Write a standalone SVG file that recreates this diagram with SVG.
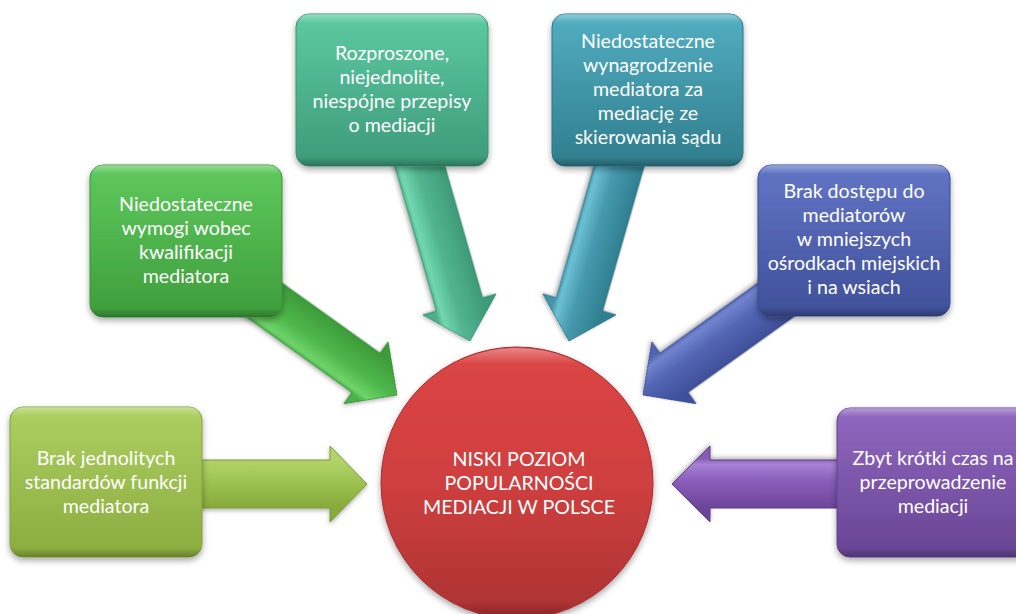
<svg xmlns="http://www.w3.org/2000/svg" width="1016" height="614" viewBox="0 0 1016 614">
<style>
  .lbl { font-family: Lato, "Noto Sans", "Liberation Sans", sans-serif; font-size: 19.6px; fill: #ffffff; text-anchor: middle; }
  .box { stroke-width: 1; }
  .arr { stroke-width: 1; stroke-linejoin: round; }
</style>
<defs>
  <filter id="sh" x="-20%" y="-20%" width="140%" height="150%">
    <feDropShadow dx="0" dy="3" stdDeviation="3" flood-color="#000" flood-opacity="0.35"/>
  </filter>
  <filter id="ash" x="-20%" y="-30%" width="140%" height="160%">
    <feDropShadow dx="0" dy="2" stdDeviation="2" flood-color="#000" flood-opacity="0.3"/>
  </filter>
  <linearGradient id="b1" x1="0" y1="0" x2="0" y2="1"><stop offset="0" stop-color="#aed062"/><stop offset="1" stop-color="#8aab3e"/></linearGradient>
  <linearGradient id="b2" x1="0" y1="0" x2="0" y2="1"><stop offset="0" stop-color="#5fc95d"/><stop offset="1" stop-color="#3e9d3b"/></linearGradient>
  <linearGradient id="b3" x1="0" y1="0" x2="0" y2="1"><stop offset="0" stop-color="#5dcaa1"/><stop offset="1" stop-color="#3d9a7a"/></linearGradient>
  <linearGradient id="b4" x1="0" y1="0" x2="0" y2="1"><stop offset="0" stop-color="#52aec1"/><stop offset="1" stop-color="#2f7d8d"/></linearGradient>
  <linearGradient id="b5" x1="0" y1="0" x2="0" y2="1"><stop offset="0" stop-color="#6275c6"/><stop offset="1" stop-color="#3f4f98"/></linearGradient>
  <linearGradient id="b6" x1="0" y1="0" x2="0" y2="1"><stop offset="0" stop-color="#9068c0"/><stop offset="1" stop-color="#684493"/></linearGradient>
  <linearGradient id="cg" x1="0" y1="0" x2="0" y2="1"><stop offset="0" stop-color="#dc4545"/><stop offset="0.5" stop-color="#cf3f3f"/><stop offset="1" stop-color="#ab3232"/></linearGradient>
  <linearGradient id="chl" x1="0" y1="0" x2="0" y2="1"><stop offset="0" stop-color="#fff" stop-opacity="0.35"/><stop offset="0.06" stop-color="#fff" stop-opacity="0"/><stop offset="0.94" stop-color="#000" stop-opacity="0"/><stop offset="1" stop-color="#000" stop-opacity="0.25"/></linearGradient>
  <linearGradient id="a1" x1="0" y1="0" x2="0" y2="1"><stop offset="0.18" stop-color="#b2d46b"/><stop offset="0.5" stop-color="#9cc24f"/><stop offset="0.82" stop-color="#86a93a"/></linearGradient>
  <linearGradient id="a2" x1="0" y1="0" x2="0" y2="1"><stop offset="0.18" stop-color="#3d9b3a"/><stop offset="0.55" stop-color="#4fb74c"/><stop offset="0.76" stop-color="#6ed46a"/><stop offset="0.84" stop-color="#4cb049"/></linearGradient>
  <linearGradient id="a3" x1="0" y1="0" x2="0" y2="1"><stop offset="0.18" stop-color="#3e9a7a"/><stop offset="0.55" stop-color="#52b590"/><stop offset="0.76" stop-color="#72d8b0"/><stop offset="0.84" stop-color="#4fae8a"/></linearGradient>
  <linearGradient id="a4" x1="0" y1="0" x2="0" y2="1"><stop offset="0.18" stop-color="#2f7f90"/><stop offset="0.55" stop-color="#4799ae"/><stop offset="0.76" stop-color="#6cc0d4"/><stop offset="0.84" stop-color="#4595aa"/></linearGradient>
  <linearGradient id="a5" x1="0" y1="0" x2="0" y2="1"><stop offset="0.18" stop-color="#3f4f9a"/><stop offset="0.55" stop-color="#5366b4"/><stop offset="0.76" stop-color="#7184cf"/><stop offset="0.84" stop-color="#5063b0"/></linearGradient>
  <linearGradient id="a6" x1="0" y1="0" x2="0" y2="1"><stop offset="0.18" stop-color="#6c4498"/><stop offset="0.55" stop-color="#8a5fbb"/><stop offset="0.76" stop-color="#a882d6"/><stop offset="0.84" stop-color="#865bb6"/></linearGradient>
</defs>

<rect width="1016" height="614" fill="#ffffff"/>

<g id="connectors">
  <polygon class="arr" fill="url(#a1)" stroke="#7a9a35" filter="url(#ash)" transform="translate(367,484)" points="-180,-24 -37,-24 -37,-38 0,0 -37,38 -37,24 -180,24"/>
  <polygon class="arr" fill="url(#a2)" stroke="#358a33" filter="url(#ash)" transform="translate(397,395) rotate(35.6)" points="-185,-24 -38,-24 -38,-38 0,0 -38,38 -38,24 -185,24"/>
  <polygon class="arr" fill="url(#a3)" stroke="#358a6c" filter="url(#ash)" transform="translate(470,341) rotate(74)" points="-195,-24 -38,-24 -38,-38 0,0 -38,38 -38,24 -195,24"/>
  <polygon class="arr" fill="url(#a4)" stroke="#2a7080" filter="url(#ash)" transform="translate(569,341) rotate(106)" points="-195,-24 -38,-24 -38,-38 0,0 -38,38 -38,24 -195,24"/>
  <polygon class="arr" fill="url(#a5)" stroke="#374689" filter="url(#ash)" transform="translate(643,395) rotate(144.4)" points="-185,-24 -38,-24 -38,-38 0,0 -38,38 -38,24 -185,24"/>
  <polygon class="arr" fill="url(#a6)" stroke="#5f3d87" filter="url(#ash)" transform="translate(672,484) rotate(180)" points="-185,-24 -38,-24 -38,-38 0,0 -38,38 -38,24 -185,24"/>
</g>

<g id="center">
  <circle cx="517" cy="483" r="136" fill="url(#cg)" stroke="#a52e2e" stroke-width="1" filter="url(#sh)"/>
  <circle cx="517" cy="483" r="135" fill="url(#chl)"/>
  <text class="lbl" x="519" y="466">NISKI POZIOM</text>
  <text class="lbl" x="519" y="490">POPULARNOŚCI</text>
  <text class="lbl" x="519" y="514">MEDIACJI W POLSCE</text>
</g>

<g id="n1">
  <rect class="box" x="10" y="407" width="192" height="150" rx="13" fill="url(#b1)" stroke="#82a23a" filter="url(#sh)"/>
  <rect x="10" y="407" width="192" height="150" rx="13" fill="url(#chl)"/>
  <text class="lbl" x="106" y="465">Brak jednolitych</text>
  <text class="lbl" x="106" y="489">standardów funkcji</text>
  <text class="lbl" x="106" y="513">mediatora</text>
</g>

<g id="n2">
  <rect class="box" x="90" y="165" width="192" height="152" rx="13" fill="url(#b2)" stroke="#3a9237" filter="url(#sh)"/>
  <rect x="90" y="165" width="192" height="152" rx="13" fill="url(#chl)"/>
  <text class="lbl" x="186" y="211">Niedostateczne</text>
  <text class="lbl" x="186" y="235">wymogi wobec</text>
  <text class="lbl" x="186" y="259">kwalifikacji</text>
  <text class="lbl" x="186" y="283">mediatora</text>
</g>

<g id="n3">
  <rect class="box" x="296" y="14" width="192" height="152" rx="13" fill="url(#b3)" stroke="#3a9172" filter="url(#sh)"/>
  <rect x="296" y="14" width="192" height="152" rx="13" fill="url(#chl)"/>
  <text class="lbl" x="392" y="60">Rozproszone,</text>
  <text class="lbl" x="392" y="84">niejednolite,</text>
  <text class="lbl" x="392" y="108">niespójne przepisy</text>
  <text class="lbl" x="392" y="132">o mediacji</text>
</g>

<g id="n4">
  <rect class="box" x="552" y="14" width="191" height="152" rx="13" fill="url(#b4)" stroke="#2c7585" filter="url(#sh)"/>
  <rect x="552" y="14" width="191" height="152" rx="13" fill="url(#chl)"/>
  <text class="lbl" x="648" y="48">Niedostateczne</text>
  <text class="lbl" x="648" y="72">wynagrodzenie</text>
  <text class="lbl" x="648" y="96">mediatora za</text>
  <text class="lbl" x="648" y="120">mediację ze</text>
  <text class="lbl" x="648" y="144">skierowania sądu</text>
</g>

<g id="n5">
  <rect class="box" x="758" y="165" width="192" height="151" rx="13" fill="url(#b5)" stroke="#3b4a90" filter="url(#sh)"/>
  <rect x="758" y="165" width="192" height="151" rx="13" fill="url(#chl)"/>
  <text class="lbl" x="854" y="198">Brak dostępu do</text>
  <text class="lbl" x="854" y="222">mediatorów</text>
  <text class="lbl" x="854" y="246">w mniejszych</text>
  <text class="lbl" x="854" y="270">ośrodkach miejskich</text>
  <text class="lbl" x="854" y="294">i na wsiach</text>
</g>

<g id="n6">
  <rect class="box" x="837" y="408" width="192" height="149" rx="13" fill="url(#b6)" stroke="#62408a" filter="url(#sh)"/>
  <rect x="837" y="408" width="192" height="149" rx="13" fill="url(#chl)"/>
  <text class="lbl" x="933" y="465">Zbyt krótki czas na</text>
  <text class="lbl" x="933" y="489">przeprowadzenie</text>
  <text class="lbl" x="933" y="513">mediacji</text>
</g>
</svg>
